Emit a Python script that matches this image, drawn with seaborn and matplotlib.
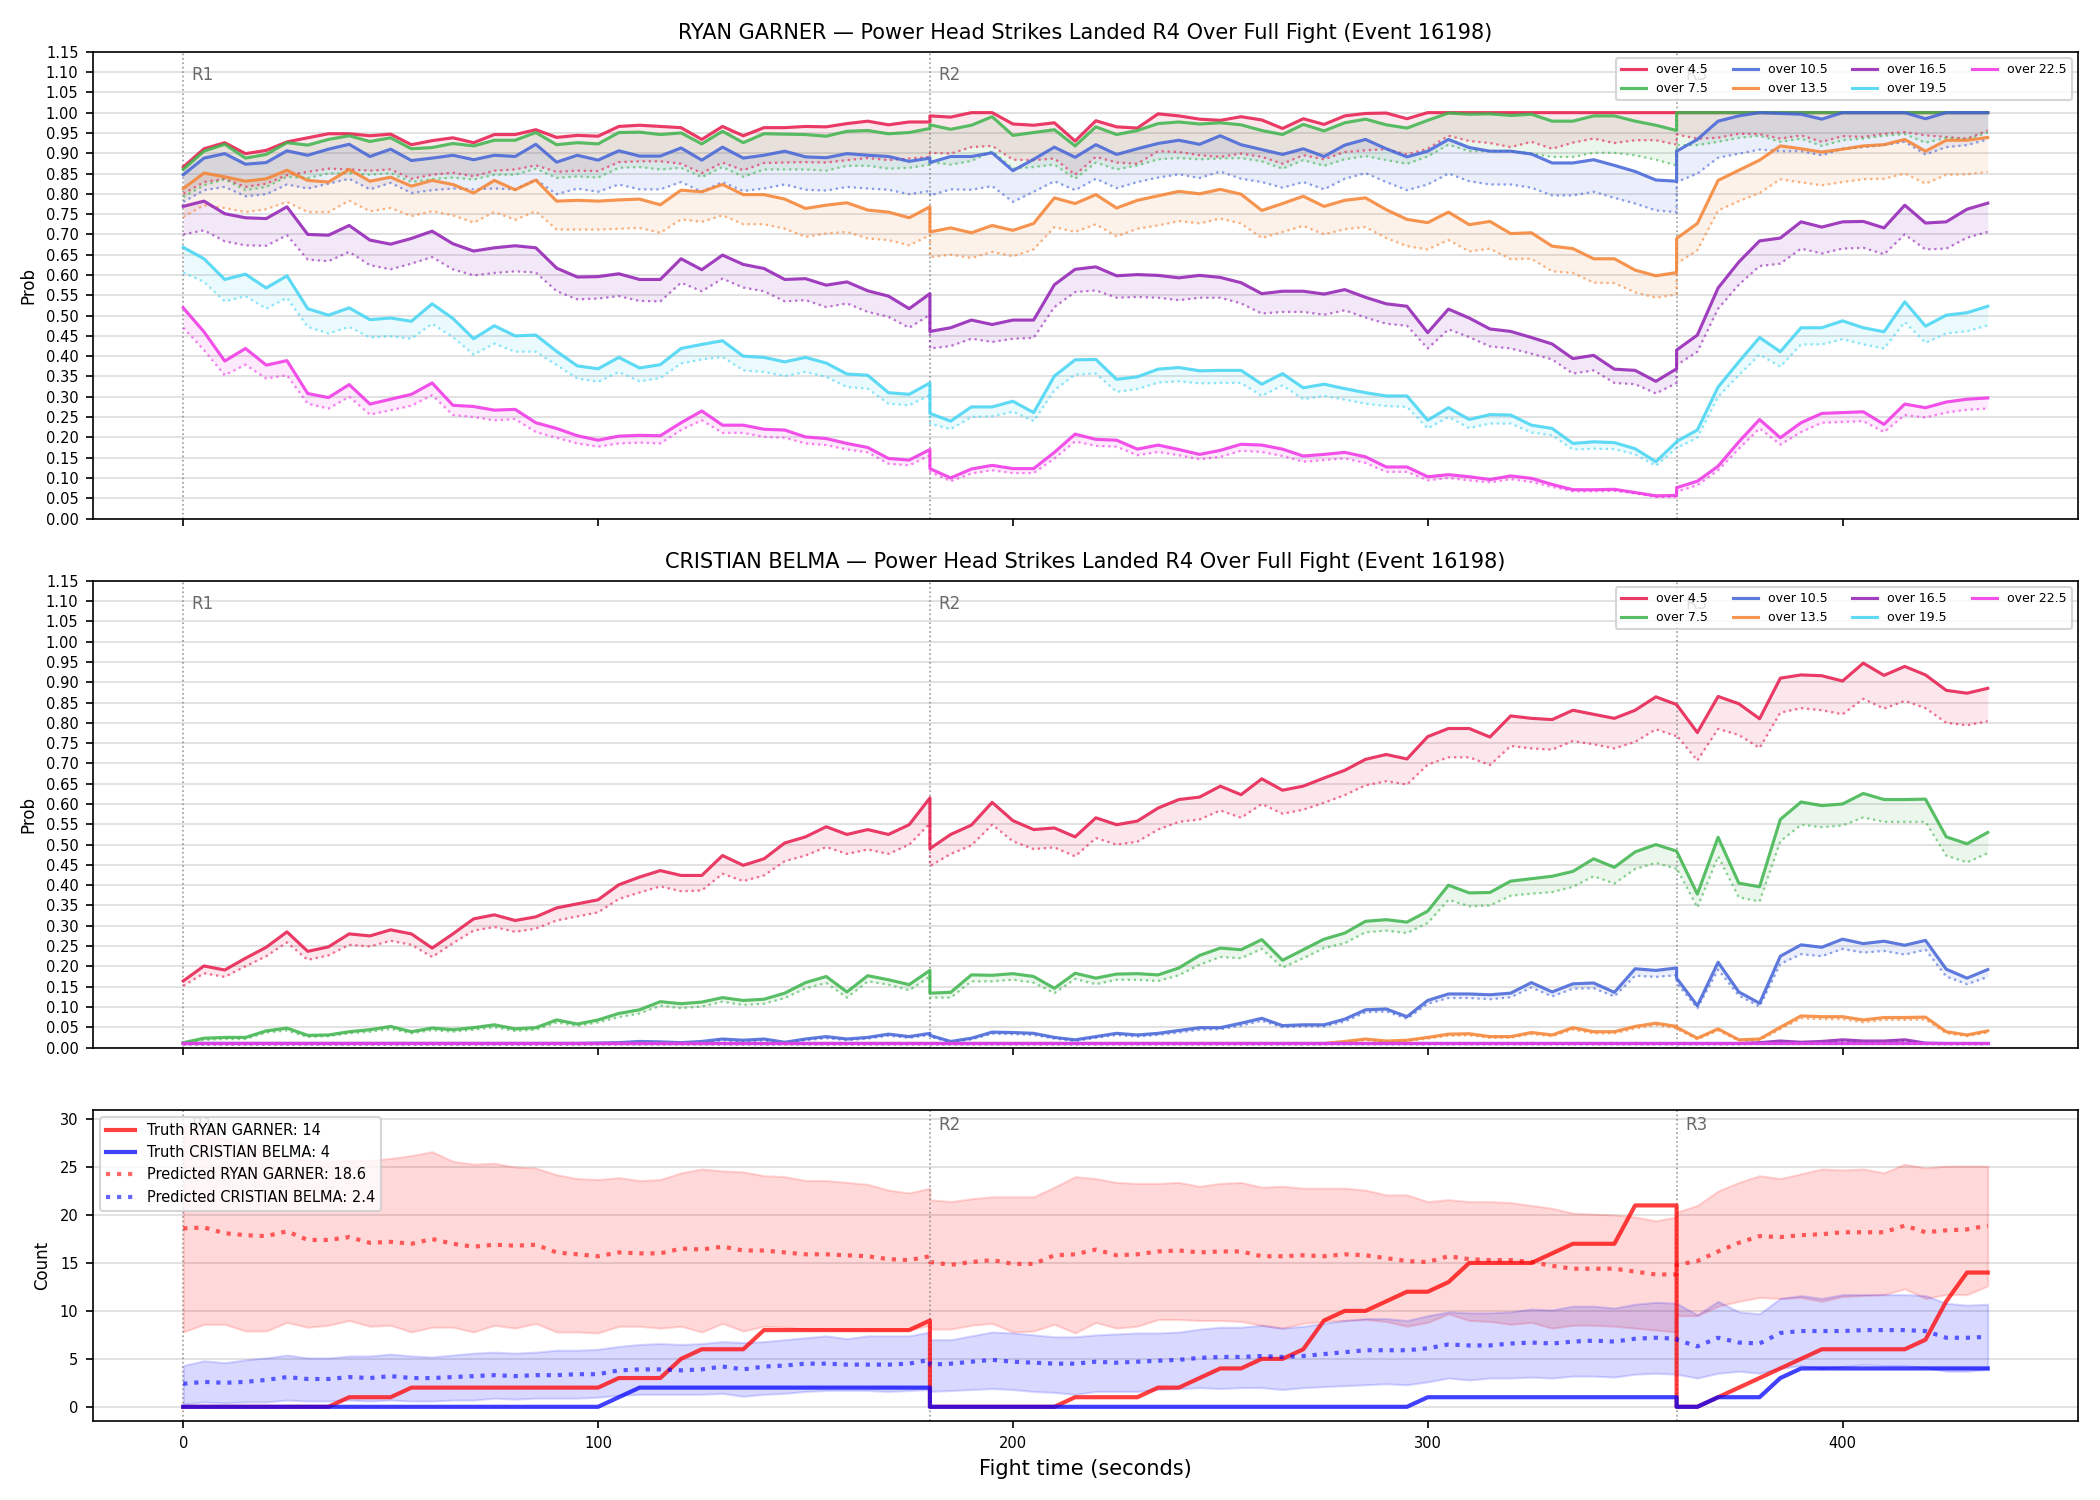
import matplotlib
matplotlib.use('Agg')
import numpy as np
import matplotlib.pyplot as plt
import seaborn as sns


# fight clock (s); round borders appear twice (end of one round, start of next)
time_s = [
    0, 5, 10, 15, 20, 25, 30, 35, 40, 45, 50, 55, 60, 65, 70, 75, 80, 85, 90,
    95, 100, 105, 110, 115, 120, 125, 130, 135, 140, 145, 150, 155, 160, 165,
    170, 175, 180,
    180, 185, 190, 195, 200, 205, 210, 215, 220, 225, 230, 235, 240, 245, 250,
    255, 260, 265, 270, 275, 280, 285, 290, 295, 300, 305, 310, 315, 320, 325,
    330, 335, 340, 345, 350, 355, 360,
    360, 365, 370, 375, 380, 385, 390, 395, 400, 405, 410, 415, 420, 425, 430,
    435,
]
round_starts = [0, 180, 360]
round_labels = ['R1', 'R2', 'R3']
thresholds = ['over 4.5', 'over 7.5', 'over 10.5', 'over 13.5',
              'over 16.5', 'over 19.5', 'over 22.5']
line_colors = ['#e6194b', '#3cb44b', '#4363d8', '#f58231',
               '#911eb4', '#42d4f4', '#f032e6']

# ---- RYAN GARNER: probability (solid) and reference (dotted) ----
g_o45 = [
    0.866, 0.911, 0.926, 0.899, 0.907, 0.928, 0.938, 0.948, 0.948, 0.943, 0.947, 0.921, 0.931,
    0.938, 0.926, 0.946, 0.946, 0.958, 0.939, 0.944, 0.942, 0.966, 0.969, 0.966, 0.963,
    0.934, 0.966, 0.943, 0.963, 0.963, 0.966, 0.965, 0.973, 0.979, 0.970, 0.977, 0.977,
    0.992, 0.989, 1.000, 1.000, 0.972, 0.969, 0.975, 0.930, 0.980, 0.965, 0.962, 0.997, 0.992, 0.984,
    0.981, 0.990, 0.982, 0.961, 0.985, 0.971, 0.992, 0.998, 0.999, 0.985, 1.000, 1.000, 1.000,
    1.000, 1.000, 1.000, 1.000, 1.000, 1.000, 1.000, 1.000, 1.000, 1.000,
    1.000, 1.000, 1.000, 1.000, 1.000, 1.000, 1.000, 1.000, 1.000, 1.000, 1.000, 1.000, 1.000,
    1.000, 1.000, 1.000,
]
g_o45_ref = [
    0.800, 0.829, 0.837, 0.817, 0.825, 0.846, 0.854, 0.862, 0.860, 0.857, 0.860, 0.837, 0.847,
    0.852, 0.843, 0.857, 0.860, 0.870, 0.854, 0.857, 0.856, 0.878, 0.880, 0.880, 0.874,
    0.851, 0.877, 0.858, 0.876, 0.877, 0.878, 0.877, 0.883, 0.888, 0.883, 0.887, 0.891,
    0.901, 0.899, 0.915, 0.918, 0.884, 0.883, 0.887, 0.847, 0.891, 0.877, 0.874, 0.905, 0.903, 0.895,
    0.891, 0.899, 0.891, 0.874, 0.895, 0.885, 0.903, 0.907, 0.910, 0.897, 0.911, 0.943, 0.930,
    0.925, 0.915, 0.928, 0.911, 0.926, 0.936, 0.925, 0.932, 0.932, 0.921,
    0.946, 0.936, 0.938, 0.948, 0.947, 0.936, 0.944, 0.928, 0.942, 0.940, 0.948, 0.952, 0.944,
    0.940, 0.936, 0.956,
]
g_o75 = [
    0.860, 0.905, 0.922, 0.888, 0.897, 0.926, 0.920, 0.934, 0.943, 0.929, 0.938, 0.911, 0.914,
    0.924, 0.918, 0.932, 0.932, 0.951, 0.921, 0.926, 0.923, 0.951, 0.952, 0.946, 0.950,
    0.923, 0.954, 0.926, 0.948, 0.947, 0.946, 0.942, 0.954, 0.956, 0.948, 0.951, 0.961,
    0.970, 0.959, 0.969, 0.990, 0.944, 0.951, 0.958, 0.918, 0.965, 0.946, 0.956, 0.973, 0.977, 0.972,
    0.975, 0.970, 0.956, 0.946, 0.971, 0.955, 0.975, 0.984, 0.970, 0.962, 0.981, 0.999, 0.996,
    0.997, 0.993, 0.996, 0.979, 0.979, 0.992, 0.992, 0.979, 0.969, 0.956,
    1.000, 1.000, 1.000, 1.000, 1.000, 1.000, 1.000, 1.000, 1.000, 1.000, 1.000, 1.000, 1.000,
    1.000, 1.000, 1.000,
]
g_o75_ref = [
    0.792, 0.821, 0.836, 0.809, 0.817, 0.842, 0.839, 0.850, 0.851, 0.847, 0.851, 0.829, 0.836,
    0.840, 0.835, 0.847, 0.847, 0.862, 0.839, 0.843, 0.840, 0.864, 0.866, 0.860, 0.864,
    0.841, 0.866, 0.842, 0.860, 0.860, 0.860, 0.857, 0.869, 0.869, 0.862, 0.864, 0.872,
    0.878, 0.872, 0.881, 0.905, 0.862, 0.866, 0.872, 0.837, 0.877, 0.860, 0.870, 0.885, 0.888, 0.885,
    0.887, 0.888, 0.880, 0.862, 0.883, 0.869, 0.885, 0.893, 0.883, 0.874, 0.892, 0.921, 0.905,
    0.905, 0.905, 0.899, 0.891, 0.891, 0.901, 0.901, 0.895, 0.884, 0.870,
    0.920, 0.920, 0.928, 0.938, 0.943, 0.928, 0.936, 0.918, 0.932, 0.936, 0.943, 0.947, 0.926,
    0.938, 0.934, 0.951,
]
g_o105 = [
    0.847, 0.888, 0.899, 0.873, 0.877, 0.906, 0.895, 0.910, 0.922, 0.892, 0.910, 0.882, 0.888,
    0.895, 0.884, 0.895, 0.892, 0.922, 0.878, 0.895, 0.883, 0.906, 0.893, 0.893, 0.913,
    0.883, 0.915, 0.888, 0.895, 0.905, 0.891, 0.889, 0.899, 0.895, 0.892, 0.880, 0.888,
    0.877, 0.892, 0.892, 0.901, 0.857, 0.885, 0.915, 0.890, 0.921, 0.897, 0.911, 0.924, 0.932, 0.922,
    0.943, 0.921, 0.909, 0.897, 0.911, 0.892, 0.920, 0.934, 0.911, 0.891, 0.905, 0.934, 0.914,
    0.905, 0.905, 0.898, 0.876, 0.876, 0.884, 0.870, 0.855, 0.834, 0.831,
    0.905, 0.934, 0.979, 0.992, 1.000, 0.998, 0.996, 0.984, 1.000, 1.000, 1.000, 1.000, 0.985,
    1.000, 1.000, 1.000,
]
g_o105_ref = [
    0.780, 0.809, 0.817, 0.794, 0.799, 0.823, 0.813, 0.825, 0.837, 0.811, 0.827, 0.802, 0.809,
    0.813, 0.811, 0.813, 0.811, 0.835, 0.799, 0.813, 0.805, 0.823, 0.811, 0.811, 0.829,
    0.805, 0.829, 0.807, 0.813, 0.823, 0.810, 0.808, 0.817, 0.813, 0.810, 0.799, 0.807,
    0.796, 0.811, 0.810, 0.819, 0.780, 0.805, 0.831, 0.809, 0.837, 0.814, 0.829, 0.840, 0.848, 0.839,
    0.855, 0.837, 0.829, 0.815, 0.829, 0.811, 0.837, 0.851, 0.829, 0.809, 0.823, 0.850, 0.831,
    0.823, 0.823, 0.815, 0.796, 0.796, 0.805, 0.790, 0.776, 0.759, 0.755,
    0.829, 0.850, 0.889, 0.899, 0.909, 0.905, 0.905, 0.895, 0.911, 0.915, 0.920, 0.928, 0.897,
    0.915, 0.920, 0.934,
]
g_o135 = [
    0.813, 0.851, 0.842, 0.831, 0.837, 0.858, 0.833, 0.829, 0.860, 0.831, 0.841, 0.819, 0.833,
    0.823, 0.802, 0.833, 0.810, 0.834, 0.782, 0.784, 0.782, 0.785, 0.787, 0.773, 0.809,
    0.805, 0.823, 0.798, 0.798, 0.787, 0.764, 0.772, 0.778, 0.760, 0.755, 0.741, 0.768,
    0.706, 0.716, 0.704, 0.722, 0.710, 0.727, 0.790, 0.776, 0.798, 0.765, 0.784, 0.795, 0.806, 0.800,
    0.811, 0.799, 0.759, 0.776, 0.794, 0.769, 0.784, 0.790, 0.761, 0.737, 0.729, 0.755, 0.724,
    0.732, 0.702, 0.704, 0.671, 0.665, 0.640, 0.640, 0.612, 0.598, 0.606,
    0.690, 0.727, 0.833, 0.858, 0.883, 0.918, 0.911, 0.903, 0.910, 0.918, 0.921, 0.934, 0.905,
    0.932, 0.932, 0.939,
]
g_o135_ref = [
    0.743, 0.772, 0.765, 0.755, 0.762, 0.780, 0.755, 0.755, 0.783, 0.757, 0.765, 0.745, 0.757,
    0.747, 0.729, 0.755, 0.736, 0.757, 0.712, 0.712, 0.712, 0.714, 0.716, 0.704, 0.737,
    0.731, 0.747, 0.725, 0.725, 0.714, 0.694, 0.702, 0.706, 0.690, 0.686, 0.673, 0.698,
    0.644, 0.650, 0.642, 0.657, 0.646, 0.663, 0.718, 0.706, 0.725, 0.695, 0.714, 0.722, 0.733, 0.727,
    0.739, 0.727, 0.691, 0.706, 0.721, 0.700, 0.713, 0.718, 0.691, 0.671, 0.663, 0.686, 0.658,
    0.665, 0.639, 0.640, 0.609, 0.605, 0.581, 0.580, 0.557, 0.544, 0.552,
    0.628, 0.661, 0.759, 0.782, 0.802, 0.836, 0.828, 0.821, 0.829, 0.836, 0.837, 0.850, 0.825,
    0.847, 0.848, 0.854,
]
g_o165 = [
    0.769, 0.782, 0.751, 0.741, 0.739, 0.768, 0.700, 0.698, 0.722, 0.686, 0.676, 0.690, 0.708,
    0.677, 0.659, 0.667, 0.672, 0.667, 0.617, 0.595, 0.596, 0.603, 0.589, 0.589, 0.640,
    0.613, 0.649, 0.626, 0.616, 0.589, 0.591, 0.575, 0.583, 0.561, 0.548, 0.517, 0.554,
    0.461, 0.470, 0.489, 0.478, 0.489, 0.489, 0.576, 0.614, 0.620, 0.598, 0.601, 0.599, 0.593, 0.599,
    0.594, 0.581, 0.554, 0.560, 0.560, 0.553, 0.564, 0.545, 0.529, 0.523, 0.458, 0.516, 0.494,
    0.467, 0.461, 0.446, 0.430, 0.394, 0.402, 0.368, 0.365, 0.338, 0.369,
    0.415, 0.452, 0.568, 0.632, 0.684, 0.691, 0.731, 0.718, 0.731, 0.732, 0.716, 0.772, 0.728,
    0.731, 0.762, 0.777,
]
g_o165_ref = [
    0.700, 0.710, 0.683, 0.673, 0.672, 0.698, 0.638, 0.634, 0.657, 0.624, 0.614, 0.628, 0.644,
    0.614, 0.599, 0.605, 0.609, 0.606, 0.560, 0.540, 0.542, 0.548, 0.536, 0.535, 0.581,
    0.560, 0.591, 0.569, 0.560, 0.535, 0.538, 0.521, 0.530, 0.509, 0.497, 0.470, 0.502,
    0.419, 0.425, 0.443, 0.435, 0.443, 0.445, 0.521, 0.558, 0.562, 0.544, 0.546, 0.544, 0.538, 0.544,
    0.544, 0.530, 0.505, 0.509, 0.509, 0.502, 0.513, 0.495, 0.480, 0.475, 0.419, 0.466, 0.447,
    0.424, 0.419, 0.406, 0.392, 0.357, 0.365, 0.334, 0.331, 0.308, 0.334,
    0.378, 0.411, 0.517, 0.576, 0.622, 0.628, 0.665, 0.653, 0.665, 0.667, 0.651, 0.700, 0.663,
    0.665, 0.692, 0.706,
]
g_o195 = [
    0.668, 0.640, 0.589, 0.602, 0.568, 0.598, 0.517, 0.501, 0.519, 0.490, 0.494, 0.486, 0.529,
    0.493, 0.443, 0.475, 0.450, 0.452, 0.412, 0.376, 0.369, 0.397, 0.371, 0.379, 0.419,
    0.429, 0.438, 0.400, 0.397, 0.386, 0.397, 0.383, 0.356, 0.353, 0.310, 0.306, 0.334,
    0.259, 0.240, 0.275, 0.275, 0.289, 0.261, 0.351, 0.391, 0.392, 0.343, 0.349, 0.368, 0.372, 0.364,
    0.365, 0.365, 0.331, 0.357, 0.322, 0.331, 0.320, 0.310, 0.302, 0.302, 0.242, 0.273, 0.244,
    0.256, 0.255, 0.230, 0.222, 0.185, 0.189, 0.187, 0.172, 0.140, 0.189,
    0.190, 0.218, 0.324, 0.386, 0.446, 0.411, 0.470, 0.470, 0.487, 0.470, 0.460, 0.534, 0.474,
    0.501, 0.507, 0.523,
]
g_o195_ref = [
    0.606, 0.583, 0.535, 0.548, 0.517, 0.544, 0.472, 0.456, 0.472, 0.446, 0.449, 0.443, 0.480,
    0.447, 0.404, 0.431, 0.411, 0.411, 0.378, 0.345, 0.337, 0.361, 0.338, 0.346, 0.382,
    0.392, 0.398, 0.365, 0.361, 0.351, 0.361, 0.349, 0.324, 0.320, 0.283, 0.279, 0.304,
    0.234, 0.220, 0.250, 0.252, 0.263, 0.240, 0.316, 0.355, 0.357, 0.312, 0.319, 0.335, 0.338, 0.333,
    0.334, 0.334, 0.302, 0.328, 0.294, 0.302, 0.293, 0.283, 0.277, 0.275, 0.222, 0.250, 0.223,
    0.234, 0.234, 0.212, 0.205, 0.170, 0.172, 0.171, 0.158, 0.130, 0.174,
    0.174, 0.199, 0.300, 0.353, 0.404, 0.374, 0.429, 0.429, 0.442, 0.429, 0.419, 0.484, 0.433,
    0.456, 0.461, 0.476,
]
g_o225 = [
    0.519, 0.460, 0.388, 0.419, 0.378, 0.389, 0.308, 0.298, 0.330, 0.282, 0.294, 0.306, 0.334,
    0.279, 0.276, 0.267, 0.269, 0.236, 0.222, 0.204, 0.193, 0.203, 0.205, 0.204, 0.236,
    0.265, 0.230, 0.230, 0.220, 0.218, 0.201, 0.197, 0.185, 0.175, 0.148, 0.144, 0.170,
    0.123, 0.100, 0.122, 0.131, 0.123, 0.123, 0.163, 0.208, 0.195, 0.193, 0.171, 0.181, 0.170, 0.158,
    0.168, 0.183, 0.181, 0.171, 0.154, 0.158, 0.163, 0.152, 0.127, 0.127, 0.103, 0.108, 0.103,
    0.096, 0.105, 0.099, 0.084, 0.071, 0.071, 0.072, 0.064, 0.056, 0.057,
    0.076, 0.092, 0.129, 0.189, 0.244, 0.199, 0.236, 0.259, 0.261, 0.263, 0.232, 0.282, 0.273,
    0.287, 0.294, 0.297,
]
g_o225_ref = [
    0.470, 0.415, 0.353, 0.379, 0.345, 0.353, 0.283, 0.271, 0.300, 0.256, 0.267, 0.278, 0.304,
    0.255, 0.250, 0.242, 0.245, 0.213, 0.199, 0.185, 0.177, 0.185, 0.187, 0.185, 0.218,
    0.242, 0.211, 0.211, 0.201, 0.199, 0.185, 0.181, 0.170, 0.163, 0.135, 0.131, 0.156,
    0.115, 0.092, 0.111, 0.119, 0.112, 0.112, 0.148, 0.190, 0.179, 0.177, 0.156, 0.164, 0.156, 0.146,
    0.152, 0.167, 0.164, 0.154, 0.140, 0.144, 0.148, 0.137, 0.115, 0.115, 0.094, 0.100, 0.094,
    0.089, 0.097, 0.090, 0.078, 0.067, 0.067, 0.068, 0.062, 0.053, 0.053,
    0.066, 0.082, 0.119, 0.172, 0.222, 0.182, 0.213, 0.236, 0.238, 0.240, 0.213, 0.255, 0.249,
    0.261, 0.268, 0.271,
]

# ---- CRISTIAN BELMA ----
b_o45 = [
    0.164, 0.201, 0.191, 0.220, 0.247, 0.285, 0.237, 0.248, 0.280, 0.275, 0.290, 0.280, 0.245,
    0.280, 0.317, 0.327, 0.313, 0.322, 0.344, 0.354, 0.364, 0.401, 0.420, 0.436, 0.424,
    0.424, 0.473, 0.449, 0.465, 0.504, 0.519, 0.544, 0.525, 0.537, 0.525, 0.549, 0.615,
    0.490, 0.525, 0.548, 0.604, 0.559, 0.537, 0.541, 0.519, 0.566, 0.549, 0.558, 0.590, 0.611, 0.617,
    0.644, 0.623, 0.662, 0.634, 0.644, 0.664, 0.683, 0.710, 0.722, 0.711, 0.766, 0.786, 0.786,
    0.765, 0.817, 0.811, 0.808, 0.831, 0.821, 0.811, 0.831, 0.864, 0.845,
    0.845, 0.776, 0.865, 0.847, 0.810, 0.910, 0.918, 0.916, 0.903, 0.947, 0.917, 0.939, 0.918,
    0.880, 0.873, 0.885,
]
b_o45_ref = [
    0.152, 0.183, 0.174, 0.200, 0.225, 0.259, 0.216, 0.227, 0.253, 0.249, 0.263, 0.253, 0.223,
    0.257, 0.288, 0.297, 0.285, 0.293, 0.313, 0.323, 0.333, 0.366, 0.382, 0.397, 0.385,
    0.387, 0.428, 0.410, 0.424, 0.459, 0.473, 0.494, 0.477, 0.488, 0.477, 0.500, 0.552,
    0.447, 0.477, 0.498, 0.549, 0.508, 0.489, 0.493, 0.471, 0.516, 0.500, 0.507, 0.537, 0.556, 0.562,
    0.584, 0.566, 0.600, 0.576, 0.586, 0.603, 0.622, 0.646, 0.656, 0.648, 0.697, 0.715, 0.715,
    0.696, 0.743, 0.737, 0.734, 0.755, 0.747, 0.737, 0.753, 0.784, 0.767,
    0.769, 0.707, 0.785, 0.770, 0.738, 0.825, 0.836, 0.831, 0.821, 0.859, 0.835, 0.854, 0.836,
    0.800, 0.794, 0.804,
]
b_o75 = [
    0.012, 0.023, 0.025, 0.025, 0.041, 0.048, 0.030, 0.031, 0.039, 0.044, 0.052, 0.039, 0.048,
    0.044, 0.049, 0.056, 0.046, 0.049, 0.068, 0.058, 0.068, 0.084, 0.093, 0.113, 0.108,
    0.112, 0.123, 0.116, 0.119, 0.134, 0.160, 0.175, 0.137, 0.177, 0.167, 0.155, 0.190,
    0.134, 0.136, 0.179, 0.178, 0.182, 0.175, 0.146, 0.183, 0.171, 0.181, 0.182, 0.179, 0.196, 0.227,
    0.245, 0.241, 0.266, 0.215, 0.241, 0.267, 0.282, 0.311, 0.315, 0.309, 0.336, 0.400, 0.381,
    0.382, 0.410, 0.416, 0.422, 0.434, 0.465, 0.444, 0.482, 0.500, 0.484,
    0.484, 0.378, 0.518, 0.405, 0.396, 0.562, 0.605, 0.596, 0.600, 0.626, 0.611, 0.611, 0.612,
    0.519, 0.502, 0.530,
]
b_o75_ref = [
    0.010, 0.019, 0.021, 0.021, 0.037, 0.042, 0.026, 0.028, 0.035, 0.039, 0.046, 0.035, 0.043,
    0.039, 0.044, 0.050, 0.041, 0.044, 0.062, 0.053, 0.062, 0.075, 0.084, 0.103, 0.097,
    0.101, 0.113, 0.105, 0.108, 0.122, 0.146, 0.159, 0.123, 0.163, 0.155, 0.141, 0.175,
    0.123, 0.123, 0.163, 0.163, 0.167, 0.160, 0.134, 0.169, 0.156, 0.167, 0.167, 0.164, 0.178, 0.204,
    0.223, 0.220, 0.243, 0.197, 0.220, 0.245, 0.257, 0.284, 0.288, 0.282, 0.307, 0.364, 0.348,
    0.350, 0.374, 0.379, 0.383, 0.396, 0.422, 0.404, 0.440, 0.455, 0.440,
    0.442, 0.345, 0.471, 0.370, 0.360, 0.508, 0.549, 0.543, 0.547, 0.567, 0.556, 0.556, 0.556,
    0.473, 0.456, 0.479,
]
b_o105 = [
    0.010, 0.010, 0.010, 0.010, 0.010, 0.010, 0.010, 0.010, 0.010, 0.010, 0.010, 0.010, 0.010,
    0.010, 0.010, 0.010, 0.010, 0.010, 0.010, 0.010, 0.011, 0.012, 0.015, 0.014, 0.012,
    0.015, 0.021, 0.018, 0.021, 0.013, 0.021, 0.027, 0.021, 0.025, 0.033, 0.027, 0.035,
    0.030, 0.015, 0.023, 0.038, 0.037, 0.035, 0.025, 0.019, 0.027, 0.035, 0.031, 0.035, 0.042, 0.049,
    0.049, 0.060, 0.072, 0.054, 0.056, 0.056, 0.070, 0.093, 0.095, 0.076, 0.116, 0.132, 0.132,
    0.130, 0.134, 0.160, 0.137, 0.157, 0.159, 0.136, 0.194, 0.190, 0.196,
    0.171, 0.103, 0.210, 0.137, 0.109, 0.225, 0.253, 0.247, 0.267, 0.256, 0.262, 0.252, 0.264,
    0.193, 0.171, 0.192,
]
b_o105_ref = [
    0.008, 0.008, 0.008, 0.008, 0.008, 0.008, 0.008, 0.008, 0.008, 0.008, 0.008, 0.008, 0.008,
    0.008, 0.008, 0.008, 0.008, 0.008, 0.008, 0.008, 0.009, 0.010, 0.012, 0.011, 0.010,
    0.012, 0.018, 0.015, 0.018, 0.011, 0.018, 0.023, 0.018, 0.022, 0.029, 0.024, 0.031,
    0.027, 0.013, 0.020, 0.034, 0.033, 0.031, 0.022, 0.016, 0.024, 0.031, 0.027, 0.031, 0.037, 0.044,
    0.045, 0.054, 0.066, 0.050, 0.052, 0.052, 0.064, 0.087, 0.089, 0.071, 0.108, 0.122, 0.122,
    0.119, 0.124, 0.148, 0.126, 0.145, 0.146, 0.126, 0.177, 0.174, 0.178,
    0.159, 0.097, 0.192, 0.128, 0.101, 0.206, 0.230, 0.225, 0.243, 0.234, 0.238, 0.229, 0.241,
    0.175, 0.156, 0.174,
]
b_o135 = [0.010] * 57 + [
    0.015, 0.021, 0.016, 0.018, 0.025, 0.033, 0.034, 0.027, 0.027, 0.037, 0.031, 0.049, 0.039,
    0.039, 0.052, 0.060, 0.052,
    0.050, 0.023, 0.046, 0.019, 0.021, 0.050, 0.078, 0.076, 0.076, 0.068, 0.074, 0.074, 0.075,
    0.039, 0.031, 0.041,
]
b_o135_ref = [0.008] * 57 + [
    0.013, 0.018, 0.014, 0.016, 0.022, 0.029, 0.030, 0.024, 0.024, 0.033, 0.028, 0.044, 0.035,
    0.035, 0.047, 0.055, 0.047,
    0.046, 0.020, 0.042, 0.017, 0.018, 0.045, 0.072, 0.070, 0.070, 0.062, 0.068, 0.068, 0.069,
    0.035, 0.028, 0.037,
]
b_o165 = [0.010] * 78 + [0.012, 0.016, 0.013, 0.015, 0.019, 0.016, 0.016, 0.019, 0.011,
                         0.010, 0.010, 0.010]
b_o165_ref = [0.008] * 78 + [0.010, 0.013, 0.011, 0.012, 0.016, 0.013, 0.013, 0.016, 0.009,
                             0.008, 0.008, 0.008]
b_o195 = [0.010] * 90
b_o195_ref = [0.008] * 90
b_o225 = [0.010] * 90
b_o225_ref = [0.008] * 90

# ---- cumulative counts ----
truth_garner = [
    0, 0, 0, 0, 0, 0, 0, 0, 1, 1, 1, 2, 2, 2, 2, 2, 2, 2, 2, 2, 2, 3, 3, 3, 5, 6, 6, 6,
    8, 8, 8, 8, 8, 8, 8, 8, 9,
    0, 0, 0, 0, 0, 0, 0, 1, 1, 1, 1, 2, 2, 3, 4, 4, 5, 5, 6, 9, 10, 10, 11, 12, 12, 13,
    15, 15, 15, 15, 16, 17, 17, 17, 21, 21, 21,
    0, 0, 1, 2, 3, 4, 5, 6, 6, 6, 6, 6, 7, 11, 14, 14,
]
truth_belma = [
    0, 0, 0, 0, 0, 0, 0, 0, 0, 0, 0, 0, 0, 0, 0, 0, 0, 0, 0, 0, 0, 1, 2, 2, 2, 2, 2, 2,
    2, 2, 2, 2, 2, 2, 2, 2, 2,
    0, 0, 0, 0, 0, 0, 0, 0, 0, 0, 0, 0, 0, 0, 0, 0, 0, 0, 0, 0, 0, 0, 0, 0, 1, 1,
    1, 1, 1, 1, 1, 1, 1, 1, 1, 1, 1,
    0, 0, 1, 1, 1, 3, 4, 4, 4, 4, 4, 4, 4, 4, 4, 4,
]
pred_garner = [
    18.6, 18.7, 18.1, 17.9, 17.8, 18.3, 17.4, 17.4, 17.7, 17.1, 17.2, 17.0, 17.5, 17.0, 16.7,
    16.9, 16.8, 16.9, 16.1, 15.9, 15.7, 16.1, 16.0, 16.0, 16.5, 16.4, 16.7, 16.3, 16.3, 16.1,
    15.9, 15.9, 15.8, 15.7, 15.4, 15.3, 15.7,
    15.1, 14.8, 15.1, 15.3, 14.9, 14.9, 15.8, 15.9, 16.4, 15.8, 15.9, 16.2, 16.3, 16.1, 16.2,
    16.2, 15.7, 15.7, 15.8, 15.7, 15.9, 15.8, 15.5, 15.2, 15.1, 15.7, 15.4, 15.3, 15.3, 15.1,
    14.7, 14.4, 14.4, 14.4, 14.1, 13.8, 13.8,
    14.8, 15.2, 16.2, 17.1, 17.8, 17.7, 17.9, 18.0, 18.2, 18.2, 18.2, 18.9, 18.2, 18.4, 18.5,
    18.9,
]
pred_garner_lo = [
    7.8, 8.6, 8.6, 7.9, 7.9, 8.8, 8.3, 8.5, 9.0, 8.4, 8.5, 7.8, 8.3, 8.3, 7.8, 8.5, 8.2, 8.7,
    7.8, 7.8, 7.7, 8.4, 8.4, 8.2, 8.4, 7.8, 8.7, 7.9, 8.4, 8.3, 8.1, 8.1, 8.0, 8.0, 8.0, 8.0,
    8.5,
    8.1, 8.1, 8.5, 8.7, 7.8, 7.9, 8.6, 7.7, 8.8, 8.2, 8.4, 9.1, 9.1, 9.0, 9.0, 8.9, 8.5, 8.2,
    8.7, 8.9, 9.0, 9.1, 8.9, 8.4, 8.8, 9.7, 9.0, 8.9, 8.6, 8.8, 8.2, 8.5, 8.5, 8.4, 8.2, 8.0,
    7.8,
    9.5, 9.5, 10.5, 11.0, 11.4, 11.3, 11.4, 11.0, 11.5, 11.6, 11.7, 12.3, 11.3, 11.7, 11.7,
    12.6,
]
pred_garner_hi = [
    29.5, 28.7, 27.9, 27.4, 26.7, 26.0, 25.7, 25.6, 25.7, 25.7, 25.9, 26.2, 26.6, 25.6, 25.3,
    25.4, 25.0, 24.9, 24.2, 23.8, 23.7, 23.9, 23.6, 23.7, 24.4, 24.8, 24.6, 24.5, 24.1, 24.0,
    23.6, 23.6, 23.4, 23.2, 22.6, 22.3, 22.8,
    21.6, 21.4, 21.7, 21.9, 21.9, 21.9, 22.9, 24.0, 23.8, 23.4, 23.3, 23.3, 23.4, 23.0, 23.3,
    23.4, 22.9, 23.0, 22.8, 22.8, 22.8, 22.6, 22.1, 22.1, 21.4, 21.6, 21.4, 21.4, 21.3, 21.0,
    20.7, 20.2, 20.1, 20.0, 19.8, 19.4, 19.8,
    20.3, 21.0, 22.5, 23.4, 24.1, 23.8, 24.3, 24.8, 24.7, 24.8, 24.4, 25.3, 24.9, 25.1, 25.1,
    25.1,
]
pred_belma = [
    2.4, 2.6, 2.5, 2.6, 2.8, 3.1, 2.9, 2.9, 3.1, 3.0, 3.2, 3.0, 3.0, 3.1, 3.2, 3.3, 3.2, 3.3,
    3.3, 3.4, 3.4, 3.8, 3.9, 3.9, 3.8, 3.9, 4.2, 3.9, 4.2, 4.3, 4.5, 4.5, 4.4, 4.4, 4.4, 4.5,
    4.9,
    4.4, 4.5, 4.7, 4.9, 4.7, 4.6, 4.5, 4.5, 4.7, 4.6, 4.7, 4.8, 4.9, 5.1, 5.2, 5.2, 5.3, 5.2,
    5.3, 5.5, 5.7, 5.9, 5.9, 5.9, 6.1, 6.5, 6.4, 6.4, 6.6, 6.7, 6.6, 6.8, 6.9, 6.8, 7.1, 7.2,
    7.1,
    7.0, 6.3, 7.2, 6.7, 6.6, 7.7, 7.9, 7.9, 7.9, 8.0, 8.0, 8.0, 7.9, 7.2, 7.2, 7.3,
]
pred_belma_lo = [
    0.3, 0.5, 0.4, 0.5, 0.5, 0.7, 0.6, 0.6, 0.7, 0.6, 0.7, 0.6, 0.6, 0.7, 0.7, 0.9, 0.8, 0.9,
    0.9, 0.9, 1.0, 1.2, 1.3, 1.3, 1.3, 1.3, 1.4, 1.1, 1.3, 1.4, 1.6, 1.7, 1.7, 1.7, 1.6, 1.7,
    1.8,
    1.6, 1.7, 1.8, 1.9, 1.8, 1.6, 1.5, 1.3, 1.6, 1.6, 1.6, 1.8, 1.9, 2.0, 1.9, 2.0, 2.0, 1.8,
    2.0, 2.1, 2.2, 2.3, 2.4, 2.3, 2.6, 3.0, 2.8, 3.0, 3.0, 3.1, 3.0, 3.2, 3.2, 3.1, 3.4, 3.5,
    3.4,
    3.4, 3.0, 3.5, 3.7, 3.5, 4.0, 4.3, 4.0, 4.2, 4.4, 4.3, 4.3, 4.1, 3.7, 3.7, 3.9,
]
pred_belma_hi = [
    4.3, 4.8, 4.6, 4.9, 5.1, 5.4, 5.1, 5.1, 5.3, 5.3, 5.5, 5.3, 5.2, 5.4, 5.6, 5.7, 5.6, 5.7,
    5.9, 5.9, 6.0, 6.3, 6.5, 6.6, 6.5, 6.6, 6.8, 6.7, 6.8, 7.0, 7.2, 7.4, 7.1, 7.4, 7.4, 7.4,
    7.8,
    7.0, 7.0, 7.4, 7.8, 7.7, 7.5, 7.3, 7.3, 7.5, 7.6, 7.7, 7.7, 7.8, 8.1, 8.3, 8.3, 8.5, 8.2,
    8.4, 8.7, 9.0, 9.2, 9.2, 9.0, 9.5, 9.9, 9.8, 9.8, 9.9, 10.2, 10.1, 10.5, 10.5, 10.3, 10.7,
    10.9, 10.8,
    10.8, 9.6, 11.0, 9.9, 9.7, 11.3, 11.6, 11.3, 11.7, 11.7, 11.7, 11.7, 11.6, 10.8, 10.6,
    10.7,
]


def mark_rounds(ax):
	for x, lab in zip(round_starts, round_labels):
		ax.axvline(x, color='gray', linestyle=':', linewidth=0.8, alpha=0.8, zorder=1)
		ax.text(x + 2, 0.95, lab, transform=ax.get_xaxis_transform(),
				fontsize=8, color='dimgray', ha='left', va='center', zorder=2)


def prob_panel(ax, solids, refs, title):
	for lab, col, ys, yr in zip(thresholds, line_colors, solids, refs):
		ax.fill_between(time_s, ys, yr, color=col, alpha=0.1, linewidth=0)
		sns.lineplot(x=time_s, y=ys, color=col, linewidth=1.5, alpha=0.85,
					 estimator=None, sort=False, label=lab, ax=ax)
		sns.lineplot(x=time_s, y=yr, color=col, linewidth=1.1, alpha=0.6,
					 linestyle=':', estimator=None, sort=False, ax=ax)
	mark_rounds(ax)
	ax.set_ylim(0, 1.15)
	ax.set_yticks(np.arange(0, 1.151, 0.05))
	ax.yaxis.set_major_formatter(plt.FormatStrFormatter('%.2f'))
	ax.grid(axis='y', color='#dddddd', linewidth=0.8)
	ax.set_axisbelow(True)
	ax.set_ylabel('Prob', fontsize=8)
	ax.set_title(title, fontsize=10)
	ax.legend(loc='upper right', ncol=4, fontsize=6)


if __name__ == '__main__':

	fig, axes = plt.subplots(
		3, 1, figsize=(14, 10), dpi=150, sharex=True,
		gridspec_kw={'height_ratios': [1.5, 1.5, 1]}
	)
	fig.subplots_adjust(left=0.0443, right=0.9895, top=0.9655, bottom=0.0527,
						hspace=0.15)

	prob_panel(
		axes[0],
		[g_o45, g_o75, g_o105, g_o135, g_o165, g_o195, g_o225],
		[g_o45_ref, g_o75_ref, g_o105_ref, g_o135_ref, g_o165_ref, g_o195_ref, g_o225_ref],
		'RYAN GARNER \u2014 Power Head Strikes Landed R4 Over Full Fight (Event 16198)'
	)
	prob_panel(
		axes[1],
		[b_o45, b_o75, b_o105, b_o135, b_o165, b_o195, b_o225],
		[b_o45_ref, b_o75_ref, b_o105_ref, b_o135_ref, b_o165_ref, b_o195_ref, b_o225_ref],
		'CRISTIAN BELMA \u2014 Power Head Strikes Landed R4 Over Full Fight (Event 16198)'
	)

	# Counts panel
	ax = axes[2]
	ax.fill_between(time_s, pred_garner_lo, pred_garner_hi, color='red', alpha=0.15)
	ax.fill_between(time_s, pred_belma_lo, pred_belma_hi, color='blue', alpha=0.15)
	sns.lineplot(x=time_s, y=truth_garner, color='red', linewidth=2, alpha=0.75,
				 estimator=None, sort=False, label='Truth RYAN GARNER: 14', ax=ax)
	sns.lineplot(x=time_s, y=truth_belma, color='blue', linewidth=2, alpha=0.75,
				 estimator=None, sort=False, label='Truth CRISTIAN BELMA: 4', ax=ax)
	sns.lineplot(x=time_s, y=pred_garner, color='red', linewidth=2, alpha=0.6,
				 linestyle=':', estimator=None, sort=False,
				 label='Predicted RYAN GARNER: 18.6', ax=ax)
	sns.lineplot(x=time_s, y=pred_belma, color='blue', linewidth=2, alpha=0.6,
				 linestyle=':', estimator=None, sort=False,
				 label='Predicted CRISTIAN BELMA: 2.4', ax=ax)
	mark_rounds(ax)
	ax.grid(axis='y', color='#dddddd', linewidth=0.8)
	ax.set_axisbelow(True)
	ax.set_ylabel('Count', fontsize=8)
	ax.set_xlabel('Fight time (seconds)', fontsize=10)
	ax.legend(loc='upper left', fontsize=7)

	for a in axes:
		a.tick_params(labelsize=7)

	plt.savefig('out.png', dpi=150)
	plt.close()
